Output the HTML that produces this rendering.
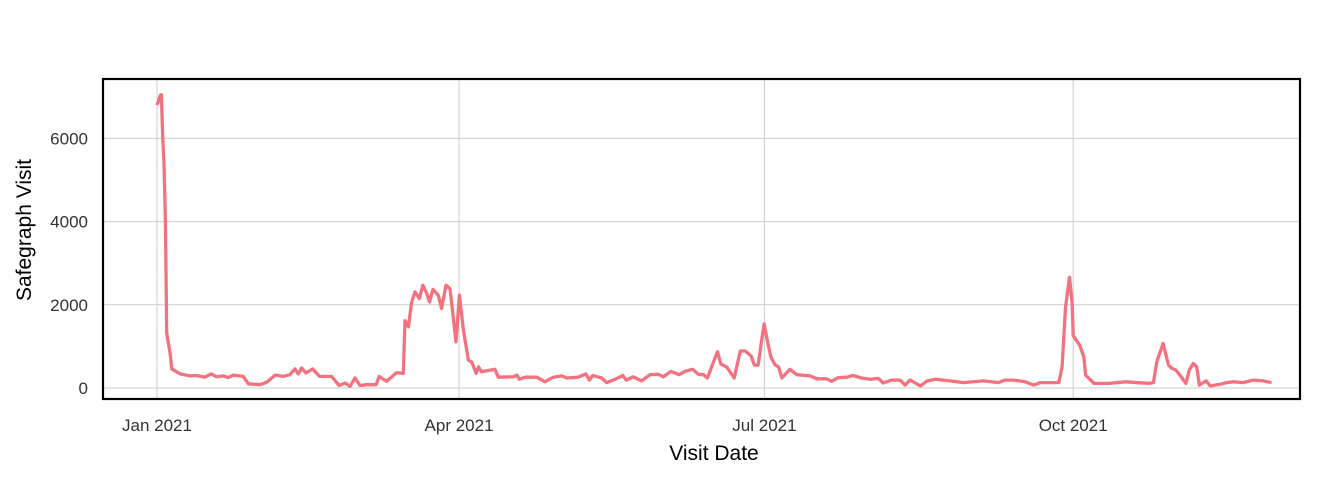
<!DOCTYPE html>
<html><head><meta charset="utf-8">
<style>
html,body{margin:0;padding:0;background:#fff;}
svg text{font-family:"Liberation Sans",Arial,sans-serif;}
</style></head>
<body>
<svg id="chart" width="1344" height="480" xmlns="http://www.w3.org/2000/svg">
<g id="grid"></g>
<g id="yticks"></g>
<g id="xticks"></g>
<path id="line" fill="none" stroke="#F2737F" stroke-width="3.3" stroke-linejoin="round"/>
<rect x="103" y="79" width="1197" height="320" fill="none" stroke="#000" stroke-width="2.2"/>
<text x="714" y="460" font-size="21" text-anchor="middle" fill="#000">Visit Date</text>
<text transform="translate(31,230) rotate(-90)" font-size="21" text-anchor="middle" fill="#000">Safegraph Visit</text>
</svg>
<script>
const dayOffsets=[0,1,1.3,1.7,2.1,2.5,2.7,2.9,3.9,4.4,6.9,9.8,11.8,14.3,16.1,17.8,19.8,21.2,22.7,25.7,27.2,30.7,32.7,35.2,37.6,39.6,41.1,42.1,43.1,44.4,46.4,48.4,52,54.3,56,57.5,59,60.5,62.5,65.3,66.2,68.4,71.4,73.4,73.9,74.9,75.9,76.9,78.2,79.2,80.4,81.2,82.2,83.8,84.8,86.1,87.3,89.1,90.1,91.3,92.8,93.8,95.1,95.8,96.7,100.7,101.7,106.2,107.2,108,109.7,113.2,115.6,118.1,120.6,122.1,125.5,127.8,128.8,129.8,132.5,134,136.5,138.8,139.8,141.9,144.4,146.9,149.4,150.9,153.1,155.6,157.3,159.6,161.3,162.8,164,165.8,167,168,169.8,172,173.8,175.3,177,178,179.1,180.2,180.9,181.7,182.9,184.2,185.2,186.2,188.6,190.6,194.6,196.6,199.5,201,203,205.5,207.4,209.9,212.4,214.9,216.4,218.9,221.4,222.9,224.4,227.5,229.5,232,236.3,240.3,246.3,250.7,252.7,255.2,258.7,261.2,263.2,266.7,268.7,269.7,270.7,271.9,272.7,273,275,276.2,276.7,279.2,283.7,288.6,295.6,296.9,297.9,299.8,301.4,302.4,303.6,304.8,306.6,307.6,308.8,309.8,310.6,312.6,313.8,316.8,318.7,320.7,323.7,326.6,329.6,332.1];
const visits=[6800,7040,7050,6040,5400,4040,2600,1320,840,460,340,290,300,260,340,270,290,250,310,280,100,80,140,310,280,320,460,340,480,360,460,280,280,60,120,40,240,60,80,80,280,160,370,350,1620,1470,2070,2310,2150,2470,2270,2070,2370,2230,1910,2470,2390,1110,2230,1390,670,620,350,510,390,450,260,270,310,210,260,260,150,260,290,240,260,340,190,300,240,130,210,300,190,270,170,320,330,270,400,320,400,450,330,320,240,620,870,580,500,240,890,890,770,550,550,1170,1540,1200,750,550,510,240,450,320,290,220,220,160,250,260,300,240,210,230,120,190,190,70,190,50,170,210,170,130,170,130,190,190,150,70,130,130,130,510,1940,2660,2020,1260,1020,740,310,110,110,150,110,130,630,1070,550,470,430,310,110,430,590,510,70,170,50,90,130,150,130,190,170,130];
const yTickValues=[0,2000,4000,6000];
const xTickDays=[0,90,181,273];
const xTickLabels=["Jan 2021","Apr 2021","Jul 2021","Oct 2021"];

const NS="http://www.w3.org/2000/svg";
const xScale=d=>157+d*3.356;
const yScale=v=>388-v*0.0416;
const grid=document.getElementById('grid');
const yt=document.getElementById('yticks');
const xt=document.getElementById('xticks');
yTickValues.forEach(v=>{
  const l=document.createElementNS(NS,'line');
  
  
  l.setAttribute('x1',103);l.setAttribute('x2',1300);
  l.setAttribute('y1',yScale(v));l.setAttribute('y2',yScale(v));
  l.setAttribute('stroke','#cccccc');l.setAttribute('stroke-width','1');
  grid.appendChild(l);
  const t=document.createElementNS(NS,'text');
  
  
  t.setAttribute('x',88);t.setAttribute('y',yScale(v)+6);
  t.setAttribute('text-anchor','end');t.setAttribute('font-size','17');t.setAttribute('fill','#333333');
  t.textContent=v;
  yt.appendChild(t);
});
xTickDays.forEach((d,i)=>{
  const l=document.createElementNS(NS,'line');
  
  
  l.setAttribute('x1',xScale(d));l.setAttribute('x2',xScale(d));
  l.setAttribute('y1',79);l.setAttribute('y2',399);
  l.setAttribute('stroke','#cccccc');l.setAttribute('stroke-width','1');
  grid.appendChild(l);
  const t=document.createElementNS(NS,'text');
  
  
  t.setAttribute('x',xScale(d));t.setAttribute('y',431);
  t.setAttribute('text-anchor','middle');t.setAttribute('font-size','17');t.setAttribute('fill','#333333');
  t.textContent=xTickLabels[i];
  xt.appendChild(t);
});
document.getElementById('line').setAttribute('d',
  dayOffsets.map((d,i)=>(i?'L':'M')+xScale(d).toFixed(1)+','+yScale(visits[i]).toFixed(1)).join(''));
</script>
</body></html>
